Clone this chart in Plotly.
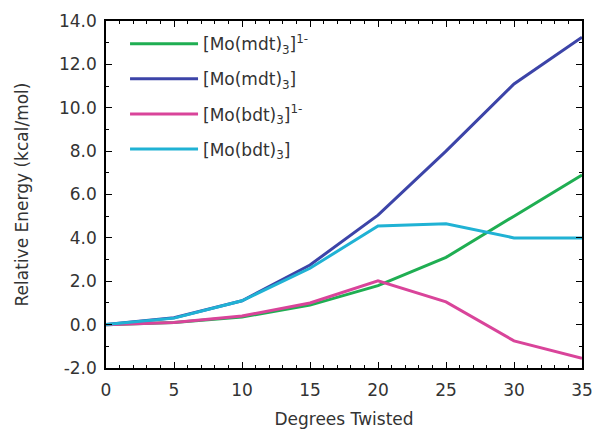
import plotly.graph_objects as go

degrees = [0, 5, 10, 15, 20, 25, 30, 35]
mo_mdt3_1m = [0.0, 0.1, 0.35, 0.9, 1.8, 3.1, 5.0, 6.9]
mo_mdt3 = [0.0, 0.32, 1.1, 2.75, 5.05, 8.0, 11.1, 13.25]
mo_bdt3_1m = [0.0, 0.1, 0.4, 1.0, 2.02, 1.05, -0.75, -1.55]
mo_bdt3 = [0.0, 0.3, 1.1, 2.6, 4.55, 4.65, 4.0, 4.0]

names = ["[Mo(mdt)<sub>3</sub>]<sup>1-</sup>", "[Mo(mdt)<sub>3</sub>]",
         "[Mo(bdt)<sub>3</sub>]<sup>1-</sup>", "[Mo(bdt)<sub>3</sub>]"]
series = [mo_mdt3_1m, mo_mdt3, mo_bdt3_1m, mo_bdt3]
colors = ["#1fae52", "#3c44a8", "#d9449a", "#20b2d4"]

FONT = "DejaVu Sans, Arial, sans-serif"

fig = go.Figure()
for i, (n, s, c) in enumerate(zip(names, series, colors)):
    fig.add_trace(go.Scatter(x=degrees, y=s, mode="lines", name=n, legendgroup=str(i),
                             line=dict(color=c, width=3)))

axis_common = dict(showline=True, linecolor="black", linewidth=1.5, mirror="allticks",
                   ticks="inside", ticklen=6, tickcolor="black", showgrid=False,
                   zeroline=False, automargin=False,
                   tickfont=dict(size=17, color="#333", family=FONT))
fig.update_xaxes(range=[0, 35], tickvals=[0, 5, 10, 15, 20, 25, 30, 35],
                 minor=dict(dtick=1, ticks="inside", ticklen=3, tickcolor="black"),
                 ticklabelstandoff=6,
                 title=dict(text="Degrees Twisted", font=dict(size=17, color="#333", family=FONT), standoff=16),
                 **axis_common)
fig.update_yaxes(range=[-2, 14], tickvals=[-2, 0, 2, 4, 6, 8, 10, 12, 14],
                 ticktext=["-2.0", "0.0", "2.0", "4.0", "6.0", "8.0", "10.0", "12.0", "14.0"],
                 minor=dict(dtick=1, ticks="inside", ticklen=3, tickcolor="black"),
                 ticklabelstandoff=4,
                 title=dict(text="Relative Energy (kcal/mol)", font=dict(size=17, color="#333", family=FONT), standoff=26),
                 **axis_common)
fig.update_layout(width=598, height=429, margin=dict(l=106, r=16, t=21, b=61),
                  paper_bgcolor="white", plot_bgcolor="white",
                  font=dict(family=FONT, color="#333"),
                  legend=dict(x=0.04, y=0.985, xanchor="left", yanchor="top",
                              bgcolor="rgba(0,0,0,0)", font=dict(size=17, color="#333", family=FONT),
                              itemwidth=68, tracegroupgap=10))
fig.write_html("out.html")
